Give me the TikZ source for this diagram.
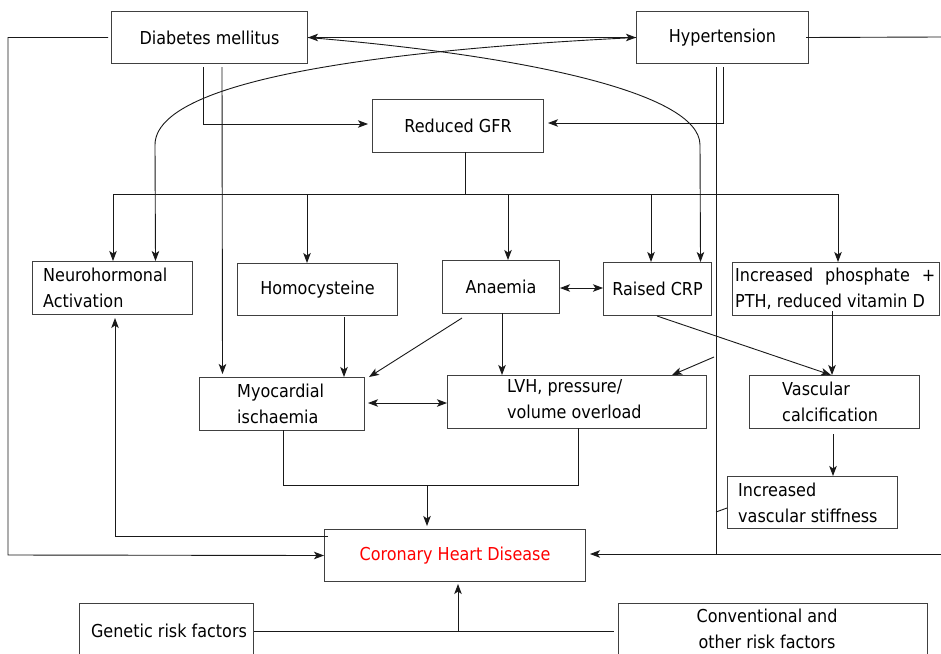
\documentclass[tikz,border=0pt]{standalone}
\usepackage{fontspec}
\setmainfont{DejaVu Sans}[FakeStretch=0.9]
\usetikzlibrary{arrows.meta}
\newcommand\dfont{\fontsize{17.8}{26.5}\selectfont}
\begin{document}
\begin{tikzpicture}[x=1pt,y=-1pt,
  box/.style={draw=black!75, line width=1pt, inner sep=0pt, anchor=north west, font=\dfont, text=black},
  txt/.style={inner sep=0pt, font=\dfont, align=left, anchor=west, text=black},
  ln/.style={draw=black!90, line width=0.9pt},
  arr/.style={ln, -{Stealth[length=10pt,width=7.5pt,inset=2.5pt]}},
  darr/.style={ln, {Stealth[length=10pt,width=7.5pt,inset=2.5pt]}-{Stealth[length=10pt,width=7.5pt,inset=2.5pt]}}]
\useasboundingbox (0,0) rectangle (941,653);
\clip (0,0) rectangle (941,653);
\fill[white] (0,0) rectangle (941,653);

% boxes
\node[box, minimum width=196pt, minimum height=52pt] (dm) at (111,11) {Diabetes mellitus};
\node[box, minimum width=172pt, minimum height=52pt] (ht) at (636,11) {Hypertension};
\node[box, minimum width=171pt, minimum height=53pt] (gfr) at (372,99) {Reduced GFR};
\node[box, minimum width=160pt, minimum height=53pt] (nh) at (32,261) {};
\node[txt] (nht) at (43,288) {Neurohormonal\\Activation};
\node[box, minimum width=160pt, minimum height=52pt] (hc) at (237,263) {Homocysteine};
\node[box, minimum width=117pt, minimum height=53pt] (an) at (442,260) {Anaemia};
\node[box, minimum width=108pt, minimum height=53pt] (crp) at (603,262) {Raised CRP};
\node[box, minimum width=207pt, minimum height=53pt] (ph) at (732,262) {};
\node[txt] (pht) at (735,289) {\makebox[200pt][s]{Increased phosphate +}\\PTH, reduced vitamin D};
\node[box, minimum width=165pt, minimum height=53pt] (myo) at (199,377) {};
\node[txt] (myot) at (237,404) {Myocardial\\ischaemia};
\node[box, minimum width=259pt, minimum height=53pt] (lvh) at (447,375) {};
\node[txt] (lvht) at (507,399) {LVH, pressure/\\volume overload};
\node[box, minimum width=170pt, minimum height=53pt] (vc) at (749,375) {};
\node[txt] (vct) at (782,402) {Vascular\\calcification};
\node[box, minimum width=170pt, minimum height=52pt] (vs) at (727,476) {};
\node[txt] (vst) at (738,503) {Increased\\vascular stiffness};
\node[box, minimum width=261pt, minimum height=52pt, text=red] (chd) at (324,529) {Coronary Heart Disease};
\node[box, minimum width=174pt, minimum height=62pt] (gen) at (79,603) {};
\node[txt, anchor=center] (gent) at (169,631) {Genetic risk factors};
\node[box, minimum width=309pt, minimum height=62pt] (conv) at (618,603) {};
\node[txt, anchor=center, align=center] (convt) at (767,629) {Conventional and\\other risk factors};

% top connections
\draw[darr] (dm.east) -- (ht.west);
\draw[ln] (dm.east) .. controls (520,55) and (700,92) .. (700,145);
\draw[arr] (700,145) -- ([xshift=43pt]crp.north);
\draw[ln] (ht.west) .. controls (380,50) and (155,80) .. (155,145);
\draw[arr] (155,145) -- ([xshift=43pt]nh.north);
\draw[arr] ([xshift=-3pt]dm.west) -| (8,555) -- (chd.west);
\draw[ln] ([xshift=-3pt]ht.east) -- (941,37);
\draw[arr] (941,554) -- ([xshift=4pt]chd.east |- 0,554);
\draw[arr] (203,67) |- ([xshift=-4pt]gfr.west |- 0,124);
\draw[arr] (222,67) -- ([xshift=-59.5pt,yshift=3pt]myo.north);
\draw[arr] (723,67) |- ([xshift=4pt]gfr.east |- 0,123);
\draw[ln] (716,67) -- (716,554);
\draw[arr] (714,357) -- (672,375);
\draw[ln] (716,512) -- (vs.west |- 0,508);

% GFR bus
\draw[ln] (465,152) -- (465,194);
\draw[ln] (113,194) -- (838,194);
\draw[arr] (113,194) -- (113,261);
\draw[arr] (307,194) -- (307,263);
\draw[arr] (508,194) -- (508,260);
\draw[arr] (651,194) -- (651,262);
\draw[arr] (838,194) -- (838,262);

% middle
\draw[darr] (an.east |- 0,288) -- (crp.west |- 0,288);
\draw[arr] (344,317) -- (344,377);
\draw[arr] (462,318) -- (369,377);
\draw[arr] (502,313) -- (502,375);
\draw[arr] (657,316) -- (831,375);
\draw[arr] (832,311) -- (832,375);
\draw[arr] (833,434) -- (833,476);
\draw[darr] ([xshift=3pt]myo.east |- 0,403) -- (lvh.west |- 0,403);

% to CHD
\draw[ln] (283,430) |- (578,485) -- (578,428);
\draw[arr] (427,485) -- (427,526);
\draw[arr] (328,536) -| (115,318);
\draw[ln] (gen.east |- 0,631) -- (614,631);
\draw[arr] (458,631) -- (458,584);
\end{tikzpicture}
\end{document}
